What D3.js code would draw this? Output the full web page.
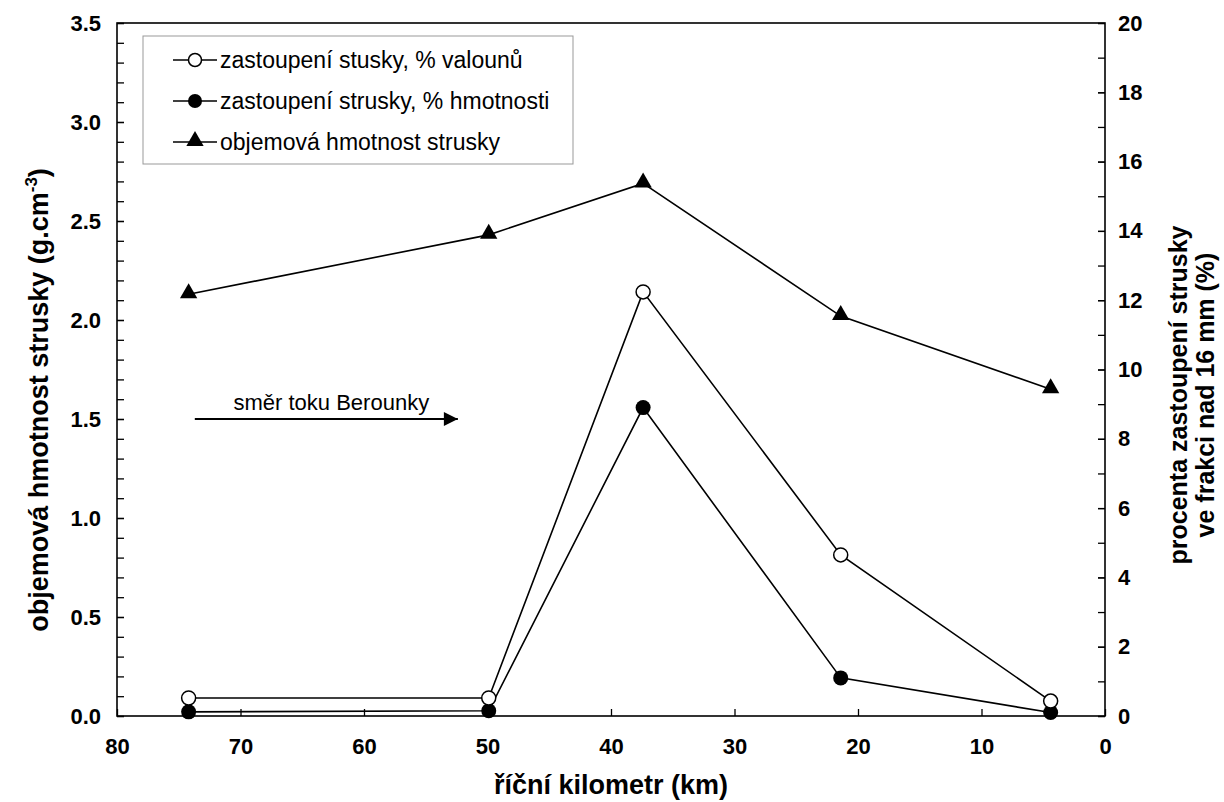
<!DOCTYPE html>
<html>
<head>
<meta charset="utf-8">
<script src="https://cdn.jsdelivr.net/npm/d3@7"></script>
<style>
  body { margin: 0; background: #fff; }
  svg text { font-family: "Liberation Sans", Arial, sans-serif; }
</style>
</head>
<body>
<svg id="chart" width="1224" height="802"></svg>
<script>
// river km of the sampling sites
const km = [74.2, 49.9, 37.4, 21.4, 4.4]
// zastoupení stusky, % valounů (right axis)
const pctPebbles = [0.52, 0.52, 12.24, 4.65, 0.43]
// zastoupení strusky, % hmotnosti (right axis)
const pctMass = [0.12, 0.15, 8.9, 1.1, 0.1]
// objemová hmotnost strusky, g/cm3 (left axis)
const density = [2.13, 2.43, 2.69, 2.02, 1.65]

const xTicks = [80, 70, 60, 50, 40, 30, 20, 10, 0]
const leftTicks = [0, 0.5, 1, 1.5, 2, 2.5, 3, 3.5]
const rightTicks = [0, 2, 4, 6, 8, 10, 12, 14, 16, 18, 20]

const legendLabels = [
    'zastoupení stusky, % valounů',
    'zastoupení strusky, % hmotnosti',
    'objemová hmotnost strusky'
]
// arrow annotation (km from, km to, density level)
const arrowKm = [73.7, 52.4]
const arrowLevel = 1.5

const svg = d3.select('#chart')
const m = { left: 117, right: 1105, top: 23, bottom: 716 }

const x = d3.scaleLinear().domain([80, 0]).range([m.left, m.right])
const yL = d3.scaleLinear().domain([0, 3.5]).range([m.bottom, m.top])
const yR = d3.scaleLinear().domain([0, 20]).range([m.bottom, m.top])

// minor ticks, all inward
const tickLen = 7
svg.append('g')
    .attr('transform', `translate(${m.left},0)`)
    .call(d3.axisLeft(yL).tickValues(d3.range(0, 36).map(i => i / 10)).tickSize(-tickLen).tickFormat(''))
    .call(g => g.select('.domain').remove())
svg.append('g')
    .attr('transform', `translate(${m.right},0)`)
    .call(d3.axisRight(yR).tickValues(d3.range(0, 21)).tickSize(-tickLen).tickFormat(''))
    .call(g => g.select('.domain').remove())

// labelled axes
svg.append('g')
    .attr('transform', `translate(${m.left},0)`)
    .call(d3.axisLeft(yL).tickValues(leftTicks).tickSize(-tickLen).tickPadding(16).tickFormat(d3.format('.1f')))
    .call(g => g.select('.domain').remove())
svg.append('g')
    .attr('transform', `translate(${m.right},0)`)
    .call(d3.axisRight(yR).tickValues(rightTicks).tickSize(-tickLen).tickPadding(13).tickFormat(d3.format('d')))
    .call(g => g.select('.domain').remove())
svg.append('g')
    .attr('transform', `translate(0,${m.bottom})`)
    .call(d3.axisBottom(x).tickValues(xTicks).tickSize(-tickLen).tickPadding(22).tickFormat(d3.format('d')))
    .call(g => g.select('.domain').remove())

svg.selectAll('.tick line').attr('stroke', '#000').attr('stroke-width', 1.3)
svg.selectAll('.tick text')
    .attr('fill', '#000')
    .style('font-size', '22px')
    .style('font-weight', 'bold')

// frame
svg.append('rect')
    .attr('x', m.left).attr('y', m.top)
    .attr('width', m.right - m.left).attr('height', m.bottom - m.top)
    .attr('fill', 'none').attr('stroke', '#000').attr('stroke-width', 1.6)

// axis titles
svg.append('text')
    .attr('x', (m.left + m.right) / 2).attr('y', 794)
    .attr('text-anchor', 'middle')
    .style('font-size', '27px').style('font-weight', 'bold')
    .text('říční kilometr (km)')

const lt = svg.append('text')
    .attr('transform', `translate(48,400) rotate(-90)`)
    .attr('text-anchor', 'middle')
    .style('font-size', '27px').style('font-weight', 'bold')
lt.append('tspan').text('objemová hmotnost strusky (g.cm')
lt.append('tspan').attr('dy', -11).style('font-size', '17px').text('-3')
lt.append('tspan').attr('dy', 11).text(')')

const rt = svg.append('text')
    .attr('transform', `translate(1187,395) rotate(-90)`)
    .attr('text-anchor', 'middle')
    .style('font-size', '25px').style('font-weight', 'bold')
rt.append('tspan').attr('x', 0).attr('dy', 0).text('procenta zastoupení strusky')
rt.append('tspan').attr('x', 0).attr('dy', 27).text('ve frakci nad 16 mm (%)')

// series lines
const lineR = d3.line().x((d, i) => x(km[i])).y(d => yR(d))
const lineL = d3.line().x((d, i) => x(km[i])).y(d => yL(d))

svg.append('path').datum(pctMass).attr('d', lineR)
    .attr('fill', 'none').attr('stroke', '#000').attr('stroke-width', 1.6)
svg.append('path').datum(pctPebbles).attr('d', lineR)
    .attr('fill', 'none').attr('stroke', '#000').attr('stroke-width', 1.6)
svg.append('path').datum(density).attr('d', lineL)
    .attr('fill', 'none').attr('stroke', '#000').attr('stroke-width', 1.6)

const tri = d3.symbol().type(d3.symbolTriangle).size(130)

svg.selectAll('circle.mass').data(pctMass).join('circle')
    .attr('class', 'mass')
    .attr('cx', (d, i) => x(km[i])).attr('cy', d => yR(d)).attr('r', 7.5)
    .attr('fill', '#000')
svg.selectAll('circle.peb').data(pctPebbles).join('circle')
    .attr('class', 'peb')
    .attr('cx', (d, i) => x(km[i])).attr('cy', d => yR(d)).attr('r', 7)
    .attr('fill', '#fff').attr('stroke', '#000').attr('stroke-width', 1.5)
svg.selectAll('path.tri').data(density).join('path')
    .attr('class', 'tri')
    .attr('d', tri)
    .attr('transform', (d, i) => `translate(${x(km[i])},${yL(d) - 1})`)
    .attr('fill', '#000')

// legend
const lg = svg.append('g')
lg.append('rect')
    .attr('x', 143).attr('y', 36).attr('width', 430).attr('height', 128)
    .attr('fill', '#fff').attr('stroke', '#999').attr('stroke-width', 1)
const rows = lg.selectAll('g.row').data(legendLabels).join('g')
    .attr('class', 'row')
    .attr('transform', (d, i) => `translate(0,${60 + i * 41})`)
rows.append('line').attr('x1', 173).attr('x2', 217)
    .attr('stroke', '#000').attr('stroke-width', 1.5)
rows.append('text').attr('x', 220).attr('y', 8)
    .style('font-size', '23px').text(d => d)
rows.filter((d, i) => i === 0).append('circle')
    .attr('cx', 195).attr('r', 6.5).attr('fill', '#fff').attr('stroke', '#000').attr('stroke-width', 1.5)
rows.filter((d, i) => i === 1).append('circle')
    .attr('cx', 195).attr('r', 7).attr('fill', '#000')
rows.filter((d, i) => i === 2).append('path')
    .attr('d', tri).attr('transform', 'translate(195,-1)').attr('fill', '#000')

// flow direction arrow
svg.append('defs').append('marker')
    .attr('id', 'head').attr('viewBox', '0 0 10 10')
    .attr('refX', 10).attr('refY', 5)
    .attr('markerWidth', 16).attr('markerHeight', 14)
    .attr('markerUnits', 'userSpaceOnUse').attr('orient', 'auto')
    .append('path').attr('d', 'M0,0 L10,5 L0,10 Z').attr('fill', '#000')
svg.append('line')
    .attr('x1', x(arrowKm[0])).attr('x2', x(arrowKm[1]))
    .attr('y1', yL(arrowLevel)).attr('y2', yL(arrowLevel))
    .attr('stroke', '#000').attr('stroke-width', 2)
    .attr('marker-end', 'url(#head)')
svg.append('text')
    .attr('x', (x(arrowKm[0]) + x(arrowKm[1])) / 2 + 5).attr('y', yL(arrowLevel) - 9)
    .attr('text-anchor', 'middle')
    .style('font-size', '22px')
    .text('směr toku Berounky')
</script>
</body>
</html>
